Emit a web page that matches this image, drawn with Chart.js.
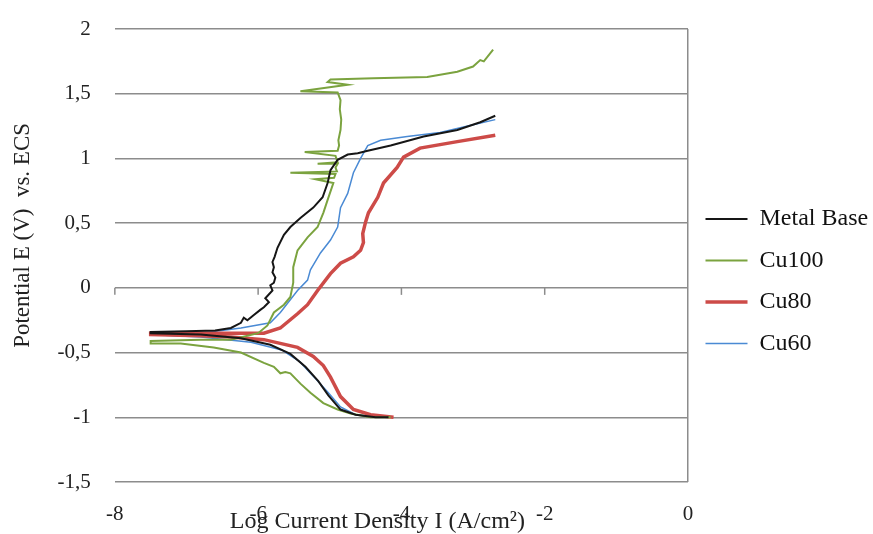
<!DOCTYPE html>
<html>
<head>
<meta charset="utf-8">
<script src="https://cdn.jsdelivr.net/npm/chart.js@4"></script>
<style>
  html, body { margin: 0; padding: 0; background: #fff; }
  #wrap { width: 873px; height: 534px; }
</style>
</head>
<body>
<div id="wrap"><canvas id="chartTafel"></canvas></div>
<script>
// axis ticks
const xTicks = [-8, -6, -4, -2, 0];
const yTicks = [-1.5, -1, -0.5, 0, 0.5, 1, 1.5, 2];

// series names
const seriesNames = ['Metal Base', 'Cu100', 'Cu80', 'Cu60'];

// Metal Base : log i (A/cm2) and E (V)
const metalBaseLogI = [-4.18, -4.36, -4.64, -4.85, -5.02, -5.16, -5.34, -5.55, -5.83, -6.24, -6.8, -7.5,
  -7.5, -7.0, -6.6, -6.38, -6.24, -6.2, -6.15, -6.06, -5.97, -5.92, -5.85, -5.9, -5.8, -5.83, -5.78, -5.76,
  -5.8, -5.78, -5.8, -5.77, -5.73, -5.64, -5.55, -5.41, -5.23, -5.1, -5.03, -4.99, -4.89, -4.75, -4.61,
  -4.47, -4.15, -3.69, -3.22, -2.9, -2.69];
const metalBaseE = [-1.0, -1.0, -0.98, -0.94, -0.83, -0.72, -0.61, -0.51, -0.44, -0.39, -0.36, -0.35,
  -0.34, -0.335, -0.33, -0.31, -0.27, -0.23, -0.25, -0.21, -0.17, -0.15, -0.11, -0.08, -0.02, 0.02, 0.04, 0.08,
  0.12, 0.16, 0.2, 0.24, 0.31, 0.41, 0.47, 0.54, 0.62, 0.7, 0.81, 0.91, 0.99, 1.03, 1.04,
  1.06, 1.1, 1.17, 1.22, 1.28, 1.33];

// Cu100
const cu100LogI = [-4.15, -4.43, -4.71, -4.89, -5.09, -5.27, -5.41, -5.55, -5.62, -5.69, -5.78, -5.92, -6.24, -6.62, -7.08, -7.5,
  -7.5, -6.8, -6.38, -6.0, -5.87, -5.78, -5.64, -5.55, -5.51, -5.51, -5.45, -5.31, -5.17, -5.09, -5.03, -4.95,
  -5.2, -4.94, -4.92, -5.55, -4.9, -4.92, -4.89, -5.17, -4.89, -4.92, -5.35, -4.89, -4.87, -4.88, -4.85,
  -4.84, -4.86, -4.85, -4.89, -5.41, -5.13, -4.75, -5.03, -4.99, -4.39, -3.64, -3.22, -3.0, -2.9, -2.85, -2.72];
const cu100E = [-1.0, -1.0, -0.97, -0.94, -0.89, -0.81, -0.74, -0.66, -0.65, -0.66, -0.61, -0.58, -0.5, -0.46, -0.43, -0.43,
  -0.41, -0.4, -0.4, -0.35, -0.29, -0.19, -0.13, -0.07, 0.04, 0.16, 0.29, 0.39, 0.47, 0.58, 0.68, 0.81,
  0.84, 0.85, 0.88, 0.89, 0.9, 0.93, 0.96, 0.96, 0.97, 1.02, 1.05, 1.06, 1.1, 1.14, 1.22,
  1.3, 1.38, 1.45, 1.51, 1.52, 1.54, 1.57, 1.59, 1.61, 1.62, 1.63, 1.67, 1.71, 1.76, 1.75, 1.84];

// Cu80
const cu80LogI = [-4.11, -4.43, -4.67, -4.85, -4.99, -5.09, -5.23, -5.45, -5.92, -6.38, -6.8, -7.5,
  -7.5, -6.8, -6.24, -5.92, -5.69, -5.45, -5.31, -5.17, -4.99, -4.85, -4.67, -4.57, -4.53, -4.54,
  -4.5, -4.46, -4.33, -4.25, -4.06, -3.97, -3.74, -3.22, -2.69];
const cu80E = [-1.0, -0.98, -0.94, -0.84, -0.69, -0.6, -0.53, -0.46, -0.4, -0.38, -0.37, -0.36,
  -0.35, -0.35, -0.35, -0.35, -0.31, -0.2, -0.13, -0.02, 0.11, 0.19, 0.24, 0.29, 0.35, 0.42,
  0.51, 0.58, 0.7, 0.81, 0.93, 1.01, 1.08, 1.13, 1.18];

// Cu60
const cu60LogI = [-4.15, -4.29, -4.64, -4.85, -5.02, -5.2, -5.42, -5.67, -6.1, -6.8, -7.5,
  -7.5, -6.8, -6.24, -5.83, -5.69, -5.45, -5.31, -5.27, -5.13, -4.99, -4.89, -4.85, -4.75, -4.67,
  -4.57, -4.47, -4.29, -3.92, -3.46, -3.0, -2.69];
const cu60E = [-1.0, -1.0, -0.98, -0.92, -0.81, -0.7, -0.57, -0.48, -0.42, -0.38, -0.36,
  -0.355, -0.35, -0.31, -0.27, -0.19, -0.02, 0.06, 0.14, 0.27, 0.37, 0.47, 0.62, 0.73, 0.89,
  1.0, 1.1, 1.14, 1.17, 1.2, 1.26, 1.3];

const toPoints = (xs, ys) => xs.map((v, i) => ({ x: v, y: ys[i] }));

// small tick marks on the horizontal axis (drawn on y = 0)
const axisTicks = {
    id: 'axisTicks',
    beforeDatasetsDraw(chart) {
        const { ctx, scales: { x, y } } = chart;
        const y0 = y.getPixelForValue(0);
        ctx.save();
        ctx.strokeStyle = '#8c8c8c';
        ctx.lineWidth = 1.5;
        xTicks.forEach(t => {
            if (t >= 0) return;
            const px = x.getPixelForValue(t);
            ctx.beginPath();
            ctx.moveTo(px, y0);
            ctx.lineTo(px, y0 + 7);
            ctx.stroke();
        });
        ctx.restore();
    }
};

const serif = 'Liberation Serif';

new Chart(document.getElementById('chartTafel'), {
    type: 'scatter',
    data: {
        datasets: [
            { label: seriesNames[0], data: toPoints(metalBaseLogI, metalBaseE), borderColor: '#161616', borderWidth: 2 },
            { label: seriesNames[1], data: toPoints(cu100LogI, cu100E), borderColor: '#7ba33f', borderWidth: 2 },
            { label: seriesNames[2], data: toPoints(cu80LogI, cu80E), borderColor: '#cd4b48', borderWidth: 3.5 },
            { label: seriesNames[3], data: toPoints(cu60LogI, cu60E), borderColor: '#4a8ad4', borderWidth: 1.5 }
        ].map(d => ({ ...d, showLine: true, pointRadius: 0, tension: 0, fill: false, backgroundColor: d.borderColor }))
    },
    options: {
        responsive: true,
        maintainAspectRatio: false,
        animation: false,
        layout: { padding: { top: 11, left: 4, right: 0, bottom: 0 } },
        plugins: {
            tooltip: { enabled: false },
            legend: {
                position: 'right',
                maxWidth: 185,
                // empty title only pushes the items down a little
                title: { display: true, text: '', padding: 0, font: { size: 10, lineHeight: 1.75 } },
                labels: {
                    usePointStyle: true,
                    pointStyle: 'line',
                    pointStyleWidth: 42,
                    padding: 17.5,
                    color: '#111',
                    font: { family: serif, size: 24 }
                }
            }
        },
        scales: {
            x: {
                type: 'linear',
                min: -8,
                max: 0,
                afterBuildTicks: scale => { scale.ticks = xTicks.map(v => ({ value: v })); },
                border: { display: false },
                grid: {
                    drawTicks: false,
                    lineWidth: 1.5,
                    color: ctx => (ctx.tick && ctx.tick.value === 0) ? '#8c8c8c' : 'rgba(0,0,0,0)'
                },
                ticks: { padding: 20, color: '#222', font: { family: serif, size: 21 } },
                title: {
                    display: true,
                    text: 'Log Current Density I (A/cm²)        ',
                    color: '#222',
                    font: { family: serif, size: 24 },
                    padding: { top: -40, bottom: -2 }
                }
            },
            y: {
                min: -1.5,
                max: 2,
                afterBuildTicks: scale => { scale.ticks = yTicks.map(v => ({ value: v })); },
                border: { display: false },
                grid: { drawTicks: false, lineWidth: 1.5, color: '#8c8c8c' },
                ticks: {
                    padding: 24,
                    color: '#222',
                    font: { family: serif, size: 21, lineHeight: 0.48 },
                    callback: v => String(v).replace('.', ',')
                },
                title: {
                    display: true,
                    text: '       Potential E (V)  vs. ECS',
                    color: '#222',
                    font: { family: serif, size: 23 },
                    padding: { top: 5, bottom: -3 }
                }
            }
        }
    },
    plugins: [axisTicks]
});
</script>
</body>
</html>
